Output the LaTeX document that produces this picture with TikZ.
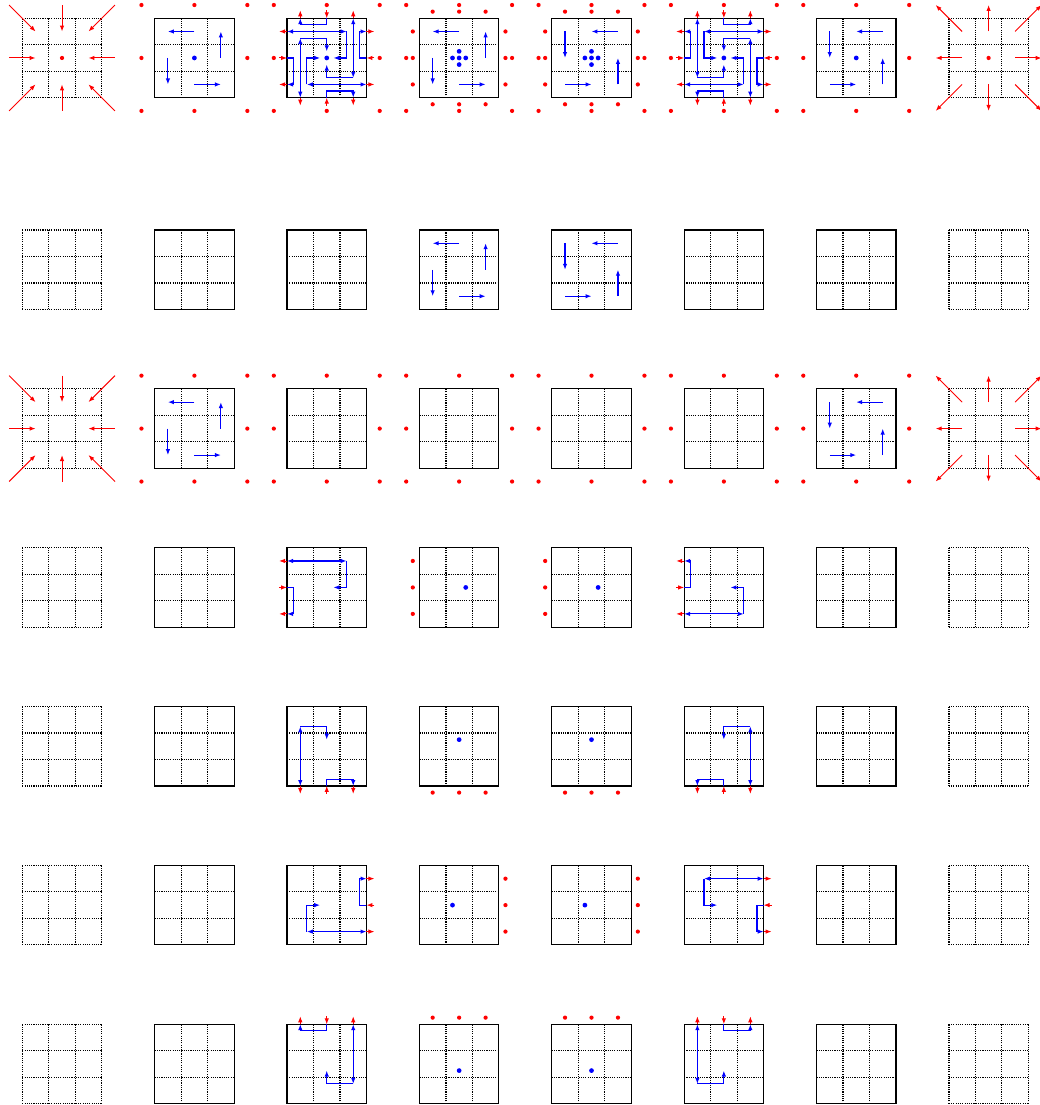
\documentclass[tikz,border=0pt]{standalone}
\usetikzlibrary{arrows.meta}

\tikzset{
  gridline/.style={line width=0.65pt, dash pattern=on 0.6pt off 0.6pt},
  cellbox/.style={line width=0.6pt},
  redarrow/.style={red, line width=0.5pt, -{Latex[length=3.2pt,width=2.4pt]}},
  bluearrow/.style={blue, line width=0.6pt, -{Latex[length=3.2pt,width=2.4pt]}},
  bluetwo/.style={blue, line width=0.6pt, {Latex[length=3.2pt,width=2.4pt]}-{Latex[length=3.2pt,width=2.4pt]}},
}

\newcommand{\opengrid}{%
  \foreach \t in {-1.5,-0.5,0.5,1.5} {
    \draw[gridline] (\t,-1.5) -- (\t,1.5);
    \draw[gridline] (-1.5,\t) -- (1.5,\t);
  }}
\newcommand{\solidgrid}{%
  \foreach \t in {-0.5,0.5} {
    \draw[gridline] (\t,-1.5) -- (\t,1.5);
    \draw[gridline] (-1.5,\t) -- (1.5,\t);
  }
  \draw[cellbox] (-1.5,-1.5) rectangle (1.5,1.5);}
\newcommand{\inward}{%
  \foreach \a/\b in {-1/-1,0/-1,1/-1,-1/0,1/0,-1/1,0/1,1/1}
    \draw[redarrow] (2*\a,2*\b) -- (\a,\b);}
\newcommand{\outward}{%
  \foreach \a/\b in {-1/-1,0/-1,1/-1,-1/0,1/0,-1/1,0/1,1/1}
    \draw[redarrow] (\a,\b) -- (2*\a,2*\b);}
\newcommand{\outerring}{%
  \foreach \a/\b in {-2/-2,0/-2,2/-2,-2/0,2/0,-2/2,0/2,2/2}
    \fill[red] (\a,\b) circle (0.08);}
\newcommand{\innerring}{%
  \foreach \t in {-1,0,1} {
    \fill[red] (\t,1.75) circle (0.08);
    \fill[red] (\t,-1.75) circle (0.08);
    \fill[red] (1.75,\t) circle (0.08);
    \fill[red] (-1.75,\t) circle (0.08);
  }}
\newcommand{\turnleft}{%
  \draw[bluearrow] (0,1) -- (-1,1);
  \draw[bluearrow] (1,0) -- (1,1);
  \draw[bluearrow] (0,-1) -- (1,-1);
  \draw[bluearrow] (-1,0) -- (-1,-1);}
\newcommand{\turnright}{%
  \draw[bluearrow] (1,1) -- (0,1);
  \draw[bluearrow] (-1,1) -- (-1,0);
  \draw[bluearrow] (-1,-1) -- (0,-1);
  \draw[bluearrow] (1,-1) -- (1,0);}
\newcommand{\fivedots}{%
  \foreach \a/\b in {0/0,0.25/0,-0.25/0,0/0.25,0/-0.25}
    \fill[blue] (\a,\b) circle (0.09);}
\newcommand{\leftpaths}{%
  \draw[bluetwo] (-1.5,1) -- (0.75,1);
  \draw[bluearrow] (0.75,1) -- (0.75,0) -- (0.25,0);
  \draw[bluearrow] (-1.5,0) -- (-1.25,0) -- (-1.25,-1) -- (-1.5,-1);
  \draw[redarrow] (-1.5,1) -- (-1.8,1);
  \draw[redarrow] (-1.8,0) -- (-1.5,0);
  \draw[redarrow] (-1.5,-1) -- (-1.8,-1);}
\newcommand{\sidedots}{%
  \foreach \t in {-1,0,1}
    \fill[red] (-1.75,\t) circle (0.08);
  \fill[blue] (0.25,0) circle (0.09);}

\begin{document}
\begin{tikzpicture}[x=0.5cm,y=0.5cm]
\useasboundingbox (-2.343,-1.55) rectangle (36.93,40.19);

\foreach \y in {0,6,12,18,24,30,38} {
  \foreach \x in {0,35} {
    \begin{scope}[shift={(\x,\y)}] \opengrid \end{scope}
  }
  \foreach \x in {5,10,...,30} {
    \begin{scope}[shift={(\x,\y)}] \solidgrid \end{scope}
  }
}

% first row
\begin{scope}[shift={(0,38)}]
  \inward
  \fill[red] (0,0) circle (0.08);
\end{scope}
\begin{scope}[shift={(5,38)}]
  \turnleft \outerring
  \fill[blue] (0,0) circle (0.09);
\end{scope}
\begin{scope}[shift={(10,38)}]
  \foreach \a in {0,90,180,270} {
    \begin{scope}[rotate=\a] \leftpaths \end{scope}
  }
  \fill[blue] (0,0) circle (0.09);
  \outerring
\end{scope}
\begin{scope}[shift={(15,38)}]
  \turnleft \fivedots \outerring \innerring
\end{scope}
\begin{scope}[shift={(20,38)}]
  \turnright \fivedots \outerring \innerring
\end{scope}
\begin{scope}[shift={(25,38)}]
  \foreach \a in {0,90,180,270} {
    \begin{scope}[rotate=\a, yscale=-1] \leftpaths \end{scope}
  }
  \fill[blue] (0,0) circle (0.09);
  \outerring
\end{scope}
\begin{scope}[shift={(30,38)}]
  \turnright \outerring
  \fill[blue] (0,0) circle (0.09);
\end{scope}
\begin{scope}[shift={(35,38)}]
  \outward
  \fill[red] (0,0) circle (0.08);
\end{scope}

% second row
\begin{scope}[shift={(15,30)}] \turnleft \end{scope}
\begin{scope}[shift={(20,30)}] \turnright \end{scope}

% third row
\begin{scope}[shift={(0,24)}] \inward \end{scope}
\begin{scope}[shift={(5,24)}] \turnleft \outerring \end{scope}
\foreach \x in {10,15,20,25} {
  \begin{scope}[shift={(\x,24)}] \outerring \end{scope}
}
\begin{scope}[shift={(30,24)}] \turnright \outerring \end{scope}
\begin{scope}[shift={(35,24)}] \outward \end{scope}

% one side at a time
\foreach \a/\y in {0/18,90/12,180/6,270/0} {
  \begin{scope}[shift={(10,\y)}, rotate=\a] \leftpaths \end{scope}
  \begin{scope}[shift={(15,\y)}, rotate=\a] \sidedots \end{scope}
  \begin{scope}[shift={(20,\y)}, rotate=\a] \sidedots \end{scope}
  \begin{scope}[shift={(25,\y)}, rotate=\a, yscale=-1] \leftpaths \end{scope}
}
\end{tikzpicture}
\end{document}
